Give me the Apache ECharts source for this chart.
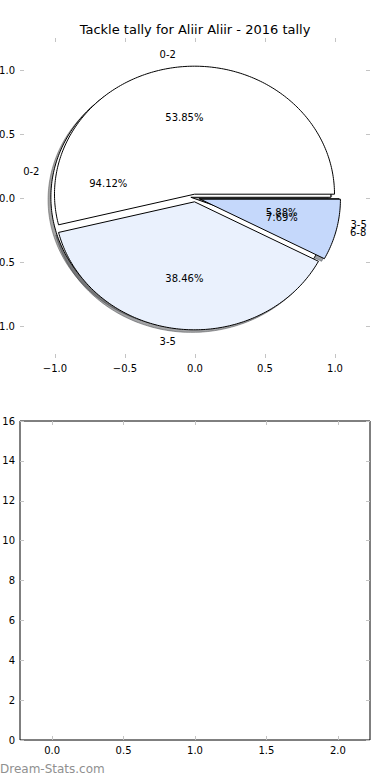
<!DOCTYPE html>
<html>
<head>
<meta charset="utf-8">
<script src="https://cdn.jsdelivr.net/npm/echarts@6/dist/echarts.min.js"></script>
<style>
html,body{margin:0;padding:0;background:#fff;}
#chart{width:390px;height:780px;}
</style>
</head>
<body>
<div id="chart"></div>
<script>
// ---- data ----
const chartTitle = 'Tackle tally for Aliir Aliir - 2016 tally';
const pie1Categories = ['0-2', '3-5', '6-8'];
const pie1Values = [7, 5, 1];
const pie2Categories = ['0-2', '3-5'];
const pie2Values = [16, 1];
const pieAxisTicks = [-1, -0.5, 0, 0.5, 1];
const barXTicks = [0, 0.5, 1, 1.5, 2];
const barYTicks = [0, 2, 4, 6, 8, 10, 12, 14, 16];
const watermark = 'Dream-Stats.com';

// ---- style ----
const FONT = 'DejaVu Sans';
const pie1Explode = [0.03, 0.03, 0.04];
const pie2Explode = [0.03, 0.03];
const pie1Colors = ['#ffffff', '#eaf1fd', '#c5d8fb'];
const pie2Colors = ['#ffffff', '#eaf1fd'];
const SHADOW_OFF = -0.02;
const tickColor = '#c4c4c4';

function buildWedges(values, cats, explode, colors) {
  const total = values.reduce((a, b) => a + b, 0);
  let cum = 0;
  return values.map((v, i) => {
    const t1 = 360 * cum / total;
    cum += v;
    const t2 = 360 * cum / total;
    const mid = (t1 + t2) / 2 * Math.PI / 180;
    const ex = explode[i];
    return {
      t1, t2, mid,
      cx: ex * Math.cos(mid), cy: ex * Math.sin(mid),
      color: colors[i], label: cats[i], pct: 100 * v / total
    };
  });
}
const wedges1 = buildWedges(pie1Values, pie1Categories, pie1Explode, pie1Colors);
const wedges2 = buildWedges(pie2Values, pie2Categories, pie2Explode, pie2Colors);
const allWedges = wedges2.concat(wedges1);

function wedgePoints(api, w, dx, dy) {
  const pts = [api.coord([w.cx + dx, w.cy + dy])];
  const n = Math.max(2, Math.ceil(w.t2 - w.t1));
  for (let k = 0; k <= n; k++) {
    const a = (w.t1 + (w.t2 - w.t1) * k / n) * Math.PI / 180;
    pts.push(api.coord([w.cx + dx + Math.cos(a), w.cy + dy + Math.sin(a)]));
  }
  return pts;
}

function shadowColor(hex) {
  const r = parseInt(hex.slice(1, 3), 16), g = parseInt(hex.slice(3, 5), 16), b = parseInt(hex.slice(5, 7), 16);
  return 'rgba(' + Math.round(r * 0.3) + ',' + Math.round(g * 0.3) + ',' + Math.round(b * 0.3) + ',0.5)';
}

function wedgeSeries(list, z) {
  return {
    type: 'custom', xAxisIndex: 0, yAxisIndex: 0, z: z, silent: true, clip: false,
    data: list.map((w, i) => [w.cx, w.cy, i]),
    renderItem: function (params, api) {
      const w = list[params.dataIndex];
      return {
        type: 'polygon',
        shape: { points: wedgePoints(api, w, 0, 0) },
        style: { fill: w.color, stroke: '#000', lineWidth: 1, lineJoin: 'miter' }
      };
    }
  };
}

const labelItems = [];
allWedges.forEach(w => {
  const lx = w.cx + 1.1 * Math.cos(w.mid), ly = w.cy + 1.1 * Math.sin(w.mid);
  labelItems.push({ x: lx, y: ly, text: w.label, align: lx > 0 ? 'left' : 'right' });
  const px = w.cx + 0.6 * Math.cos(w.mid), py = w.cy + 0.6 * Math.sin(w.mid);
  labelItems.push({ x: px, y: py, text: w.pct.toFixed(2) + '%', align: 'center' });
});

const fmt1 = v => (v < 0 ? '\u2212' : '') + Math.abs(v).toFixed(1);

function tickCfg(vals) {
  return { show: true, inside: true, length: 4, lineStyle: { color: tickColor, width: 1 }, customValues: vals };
}
const noLine = { show: false, onZero: false };

const option = {
  animation: false,
  backgroundColor: '#ffffff',
  title: [
    { text: chartTitle, left: 'center', top: 23, padding: 0,
      textStyle: { fontFamily: FONT, fontSize: 13, fontWeight: 'normal', color: '#000' } },
    { text: watermark, left: 0, top: 763, padding: 0,
      textStyle: { fontFamily: FONT, fontSize: 12, fontWeight: 'normal', color: '#909090' } }
  ],
  grid: [
    { left: 20, right: 20, top: 38, height: 320, containLabel: false, outerBoundsMode: 'none' },
    { left: 20, right: 20, top: 421, height: 319, containLabel: false, outerBoundsMode: 'none',
      show: true, borderColor: '#000', borderWidth: 1, backgroundColor: 'transparent' }
  ],
  xAxis: [
    { gridIndex: 0, type: 'value', min: -1.25, max: 1.25, position: 'bottom',
      axisLine: noLine, splitLine: { show: false }, axisTick: tickCfg(pieAxisTicks),
      axisLabel: { customValues: pieAxisTicks, formatter: fmt1, fontFamily: FONT, fontSize: 10, color: '#000', margin: 5 } },
    { gridIndex: 0, type: 'value', min: -1.25, max: 1.25, position: 'top',
      axisLine: noLine, splitLine: { show: false }, axisTick: tickCfg(pieAxisTicks),
      axisLabel: { show: false } },
    { gridIndex: 1, type: 'value', min: -0.225, max: 2.225, position: 'bottom',
      axisLine: noLine, splitLine: { show: false }, axisTick: tickCfg(barXTicks),
      axisLabel: { customValues: barXTicks, formatter: fmt1, fontFamily: FONT, fontSize: 10, color: '#000', margin: 5 } },
    { gridIndex: 1, type: 'value', min: -0.225, max: 2.225, position: 'top',
      axisLine: noLine, splitLine: { show: false }, axisTick: tickCfg(barXTicks),
      axisLabel: { show: false } }
  ],
  yAxis: [
    { gridIndex: 0, type: 'value', min: -1.25, max: 1.25, position: 'left',
      axisLine: noLine, splitLine: { show: false }, axisTick: tickCfg(pieAxisTicks),
      axisLabel: { customValues: pieAxisTicks, formatter: fmt1, fontFamily: FONT, fontSize: 10, color: '#000', margin: 5 } },
    { gridIndex: 0, type: 'value', min: -1.25, max: 1.25, position: 'right',
      axisLine: noLine, splitLine: { show: false }, axisTick: tickCfg(pieAxisTicks),
      axisLabel: { show: false } },
    { gridIndex: 1, type: 'value', min: 0, max: 16, interval: 2, position: 'left',
      axisLine: noLine, splitLine: { show: false }, axisTick: tickCfg(barYTicks),
      axisLabel: { customValues: barYTicks, formatter: v => String(v), fontFamily: FONT, fontSize: 10, color: '#000', margin: 5 } },
    { gridIndex: 1, type: 'value', min: 0, max: 16, interval: 2, position: 'right',
      axisLine: noLine, splitLine: { show: false }, axisTick: tickCfg(barYTicks),
      axisLabel: { show: false } }
  ],
  series: [
    {
      type: 'custom', xAxisIndex: 0, yAxisIndex: 0, z: 1, silent: true, clip: false,
      data: allWedges.map((w, i) => [w.cx, w.cy, i]),
      renderItem: function (params, api) {
        const w = allWedges[params.dataIndex];
        const c = shadowColor(w.color);
        return {
          type: 'polygon',
          shape: { points: wedgePoints(api, w, SHADOW_OFF, SHADOW_OFF) },
          style: { fill: c, stroke: c, lineWidth: 1 }
        };
      }
    },
    wedgeSeries(wedges2, 2),
    wedgeSeries(wedges1, 3),
    {
      type: 'custom', xAxisIndex: 0, yAxisIndex: 0, z: 4, silent: true, clip: false,
      data: labelItems.map((l, i) => [l.x, l.y, i]),
      renderItem: function (params, api) {
        const l = labelItems[params.dataIndex];
        const p = api.coord([l.x, l.y]);
        return {
          type: 'text', x: p[0], y: p[1],
          style: {
            text: l.text, fill: '#000', fontFamily: FONT, fontSize: 10,
            align: l.align, verticalAlign: 'middle',
            textAlign: l.align, textVerticalAlign: 'middle'
          }
        };
      }
    }
  ]
};

const chart = echarts.init(document.getElementById('chart'), null, { renderer: 'svg', width: 390, height: 780 });
chart.setOption(option);
</script>
</body>
</html>
